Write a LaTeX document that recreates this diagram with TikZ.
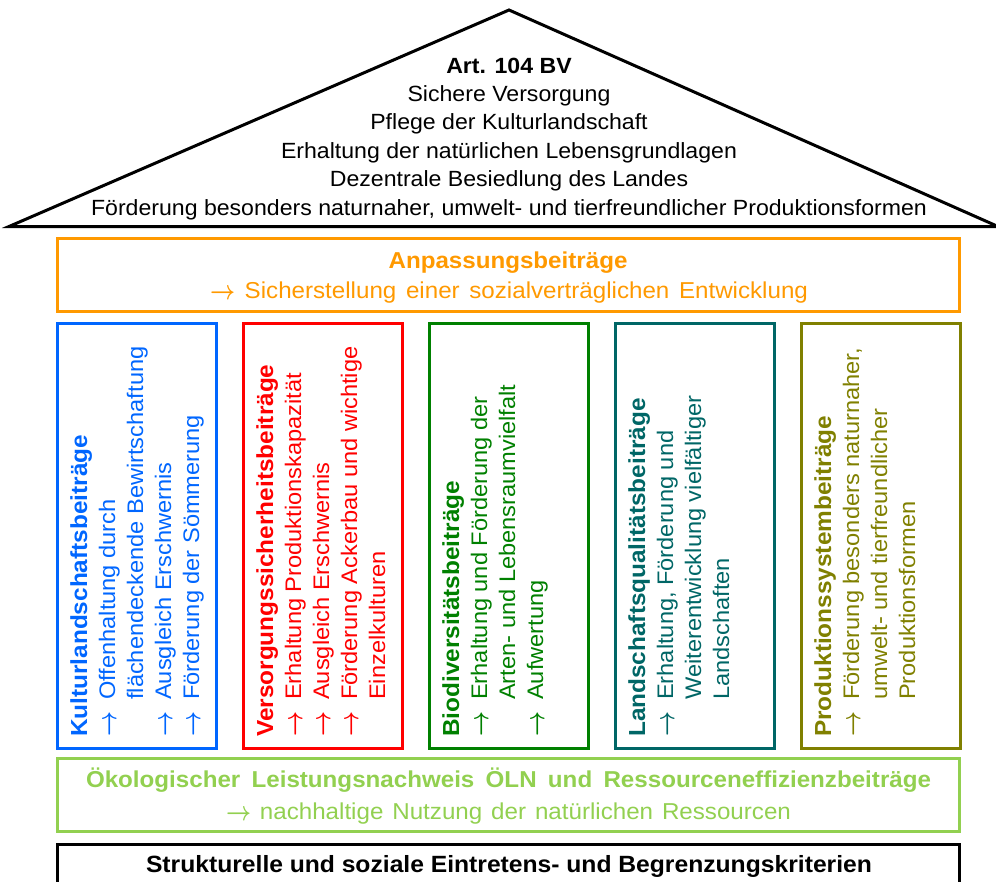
\documentclass[tikz,border=0pt]{standalone}
\usepackage{fontspec}
\setmainfont{Liberation Sans}[FakeStretch=1.05]
\definecolor{cblue}{RGB}{0,102,255}
\definecolor{cred}{RGB}{255,0,0}
\definecolor{cgreen}{RGB}{0,128,0}
\definecolor{cteal}{RGB}{0,102,102}
\definecolor{colive}{RGB}{128,128,0}
\definecolor{corange}{RGB}{255,153,0}
\definecolor{clgreen}{RGB}{146,208,80}
\newcommand\roofsize{\fontsize{22}{28}\selectfont}
\newcommand\colsize{\fontsize{22.5}{28}\selectfont}
\newcommand\colhead[1]{{\fontsize{23.2}{28}\selectfont\bfseries #1}}
\newcommand\bandsize{\fontsize{23}{30}\selectfont}
\newcommand\strksize{\fontsize{23.5}{30}\selectfont}
\newcommand\rarrow{\raisebox{-1pt}[8pt][0pt]{\scalebox{1.05}[1.3]{\fontsize{21}{28}\selectfont\boldmath$\rightarrow$}}}
\newcommand\arr{\makebox[37pt][l]{\rarrow}}
\newcommand\ind{\hspace*{37pt}}
\begin{document}
\begin{tikzpicture}[x=1pt,y=-1pt,
  box/.style={draw, line width=3pt, inner sep=0pt, minimum width=#1},
  colbox/.style={draw, line width=3pt, inner sep=0pt, minimum width=159pt, minimum height=425pt},
  coltext/.style={rotate=90, anchor=north west, inner sep=0pt, align=left, font=\colsize},
  txt/.style={inner sep=0pt, anchor=base}]
\useasboundingbox (0,0) rectangle (996,881);
% roof
\draw[line width=3pt, line join=miter] (9,226.5) -- (509,10) -- (998,226.5) -- cycle;
\node[txt, font=\roofsize\bfseries] (r0) at (509,73) {Art. 104 BV};
\node[txt, font=\roofsize] (r1) at (509,101.3) {Sichere Versorgung};
\node[txt, font=\roofsize] (r2) at (509,129.7) {Pflege der Kulturlandschaft};
\node[txt, font=\roofsize] (r3) at (509,158) {Erhaltung der natürlichen Lebensgrundlagen};
\node[txt, font=\roofsize] (r4) at (509,186.4) {Dezentrale Besiedlung des Landes};
\node[txt, font=\roofsize] (r5) at (509,215) {Förderung besonders naturnaher, umwelt- und tierfreundlicher Produktionsformen};
% Anpassungsbeitraege
\node[box=902pt, minimum height=72.5pt, corange] (anp) at (508,274.75) {};
\node[txt, font=\bandsize\bfseries, corange] (anp1) at (508,268.5) {Anpassungsbeiträge};
\node[txt, font=\bandsize, corange] (anp2) at (509,298.5) {\makebox[598pt][s]{\rarrow\ Sicherstellung einer sozialverträglichen Entwicklung}};
% columns
\node[colbox, cblue] (c1) at (136.5,535.5) {};
\node[colbox, cred] (c2) at (322.5,535.5) {};
\node[colbox, cgreen] (c3) at (508.5,535.5) {};
\node[colbox, cteal] (c4) at (694.5,535.5) {};
\node[colbox, colive] (c5) at (880.5,535.5) {};
\node[coltext, cblue] (t1) at (70,737) {\colhead{Kulturlandschaftsbeiträge}\\
\arr Offenhaltung durch\\
\ind flächendeckende Bewirtschaftung\\
\arr Ausgleich Erschwernis\\
\arr Förderung der Sömmerung};
\node[coltext, cred] (t2) at (256,737) {\colhead{Versorgungssicherheitsbeiträge}\\
\arr Erhaltung Produktionskapazität\\
\arr Ausgleich Erschwernis\\
\arr Förderung Ackerbau und wichtige\\
\ind Einzelkulturen};
\node[coltext, cgreen] (t3) at (442,737) {\colhead{Biodiversitätsbeiträge}\\
\arr Erhaltung und Förderung der\\
\ind Arten- und Lebensraumvielfalt\\
\arr Aufwertung};
\node[coltext, cteal] (t4) at (628,737) {\colhead{Landschaftsqualitätsbeiträge}\\
\arr Erhaltung, Förderung und\\
\ind Weiterentwicklung vielfältiger\\
\ind Landschaften};
\node[coltext, colive] (t5) at (814,737) {\colhead{Produktionssystembeiträge}\\
\arr Förderung besonders naturnaher,\\
\ind umwelt- und tierfreundlicher\\
\ind Produktionsformen};
% OELN
\node[box=902pt, minimum height=73.5pt, clgreen] (oeln) at (508,794.75) {};
\node[txt, font=\bandsize, clgreen] (oeln1) at (508.5,787.5) {\makebox[845pt][s]{\bfseries Ökologischer Leistungsnachweis ÖLN und Ressourceneffizienzbeiträge}};
\node[txt, font=\bandsize, clgreen] (oeln2) at (508.5,819.5) {\makebox[565pt][s]{\rarrow\ nachhaltige Nutzung der natürlichen Ressourcen}};
% Strukturelle
\node[box=902pt, minimum height=60pt] (strk) at (508,874) {};
\node[txt, font=\strksize\bfseries] (strk1) at (509,872.5) {\makebox[726pt][s]{Strukturelle und soziale Eintretens- und Begrenzungskriterien}};
\end{tikzpicture}
\end{document}
